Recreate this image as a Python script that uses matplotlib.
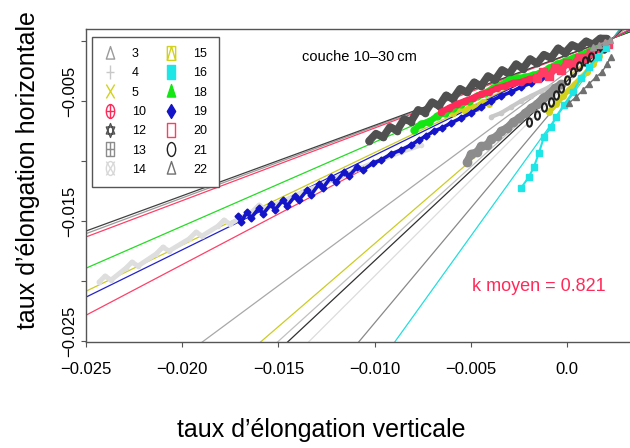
import matplotlib
matplotlib.use("Agg")
import matplotlib.pyplot as plt
from matplotlib.path import Path
from matplotlib.lines import Line2D
from matplotlib.transforms import ScaledTranslation

plt.rcParams['font.family'] = ['Liberation Sans', 'DejaVu Sans']

# ---------------- data ----------------
series = ['3', '4', '5', '10', '12', '13', '14', '15', '16', '18', '19', '20', '21', '22']
colors = {'3': '#9a9a9a', '4': '#c8c8c8', '5': '#d2d21e', '10': '#ff2a5a', '12': '#505050',
          '13': '#8c8c8c', '14': '#d8d8d8', '15': '#d2d21e', '16': '#1ee6e6', '18': '#14e614',
          '19': '#1414c8', '20': '#ff3c64', '21': '#202020', '22': '#707070'}
# fitted slopes (horizontal / vertical)
slopes = {'3': 0.595, '4': 1.452, '5': 1.382, '10': 0.605, '12': 0.587, '13': 1.186,
          '14': 1.60, '15': 0.770, '16': 2.231, '18': 0.700, '19': 0.788, '20': 0.843,
          '21': 1.497, '22': 1.915}
line_colors = {'3': '#9a9a9a', '4': '#c0c0c0', '5': '#cccc22', '10': '#ff4068', '12': '#404040',
               '13': '#a8a8a8', '14': '#dcdcdc', '15': '#cccc22', '16': '#22dede', '18': '#22dd22',
               '19': '#2222cc', '20': '#ff4068', '21': '#303030', '22': '#888888'}
anchor = (0.0024, 0.00025)   # common point of fitted lines
k_mean = 0.821

# strains in per mille: v = vertical, h = horizontal
v12 = [-10.29, -9.93, -9.56, -9.20, -8.84, -8.47, -8.11, -7.74, -7.38, -7.02, -6.65, -6.29,
       -5.93, -5.56, -5.20, -4.83, -4.47, -4.11, -3.74, -3.38, -3.01, -2.65, -2.29, -1.92,
       -1.56, -1.20, -0.83, -0.47, -0.10, 0.26, 0.62, 0.99, 1.35, 1.72, 2.08]
h12 = [-8.33, -7.72, -8.02, -7.16, -7.46, -6.51, -6.71, -5.74, -5.96, -5.10, -5.40, -4.53,
       -4.84, -3.98, -4.29, -3.44, -3.75, -2.92, -3.24, -2.41, -2.74, -1.93, -2.30, -1.50,
       -1.87, -1.14, -1.42, -0.61, -0.98, -0.33, -0.59, -0.03, -0.28, 0.21, 0.20]

v10 = [-6.55, -6.13, -5.72, -5.30, -4.89, -4.47, -4.05, -3.64, -3.22, -2.81, -2.39, -1.98, -1.56]
h10 = [-5.92, -5.58, -5.25, -5.00, -4.75, -4.42, -4.25, -3.92, -3.75, -3.50, -3.42, -3.17, -3.08]

v20 = [-1.56, -1.25, -0.94, -0.62, -0.31, 0.00, 0.31, 0.62, 0.94, 1.25, 1.56, 1.87, 2.13]
h20 = [-3.08, -2.58, -2.92, -2.25, -2.42, -1.83, -2.00, -1.42, -1.42, -1.00, -0.92, -0.50, -0.25]

v18 = [-7.95, -7.59, -7.17, -6.76, -6.34, -5.93, -5.51, -5.09, -4.68, -4.26, -3.85, -3.43,
       -3.01, -2.60, -2.18, -1.77, -1.35, -0.94, -0.52, -0.10, 0.31, 0.73, 1.14, 1.56]
h18 = [-7.42, -6.92, -6.75, -6.25, -6.00, -5.58, -5.25, -5.00, -4.58, -4.33, -3.92, -3.67,
       -3.25, -3.08, -3.00, -2.83, -2.67, -2.25, -1.92, -1.67, -1.42, -1.17, -0.92, -0.67]

v19 = [-17.10, -16.94, -16.63, -16.42, -16.01, -15.80, -15.38, -15.18, -14.76, -14.55, -14.14,
       -13.93, -13.51, -13.31, -12.89, -12.68, -12.27, -12.01, -11.59, -11.33, -10.91, -10.60,
       -10.08, -9.67, -9.15, -8.63, -8.11, -7.69, -7.33, -6.91, -6.50, -6.03, -5.51, -4.99,
       -4.47, -3.95, -3.43, -2.91, -2.39, -1.87, -1.35, -0.83, -0.31, 0.21, 0.73, 1.25, 1.77]
h19 = [-14.58, -15.08, -14.25, -14.75, -13.92, -14.42, -13.58, -14.08, -13.25, -13.75, -12.92,
       -13.25, -12.42, -12.83, -11.92, -12.25, -11.33, -11.75, -10.92, -11.25, -10.50, -10.75,
       -10.17, -9.92, -9.42, -9.08, -8.67, -8.25, -7.92, -7.50, -7.25, -6.83, -6.42, -6.00,
       -5.50, -5.00, -4.58, -4.25, -3.83, -3.50, -3.08, -2.58, -2.08, -1.67, -1.25, -0.92, -0.50]

v14 = [-24.32, -24.01, -23.70, -22.92, -22.61, -22.30, -21.36, -21.00, -20.69, -19.65, -19.28,
       -18.97, -18.14, -17.83, -17.52, -16.32, -16.01, -15.70, -14.61, -13.83, -12.79, -11.75,
       -10.71, -9.67, -8.63, -7.59]
h14 = [-20.08, -19.58, -19.92, -18.92, -18.42, -18.75, -17.75, -17.17, -17.50, -16.50, -15.92,
       -16.25, -15.42, -14.92, -15.25, -14.17, -13.67, -14.00, -13.25, -12.67, -12.00, -11.25,
       -10.58, -9.92, -9.25, -8.67]

v15 = [-5.93, -5.61, -5.30, -4.99, -4.68, -4.37, -4.05]
h15 = [-6.00, -5.58, -5.83, -5.42, -5.58, -5.08, -5.25]

v5 = [-0.94, -0.57, -0.21, 0.10, 0.42, 0.73, 1.04, 1.35, 1.66]
h5 = [-5.92, -5.25, -4.58, -4.08, -3.58, -3.08, -2.58, -1.92, -1.25]

v13 = [-5.20, -4.99, -4.68, -4.47, -4.16, -3.95, -3.64, -3.43, -3.12, -2.81, -2.49, -2.18,
       -1.87, -1.56, -1.25, -0.94, -0.62, -0.31]
h13 = [-10.08, -9.42, -9.25, -8.75, -8.67, -8.17, -7.92, -7.50, -7.25, -6.75, -6.42, -6.00,
       -5.58, -5.25, -4.75, -4.42, -3.92, -3.58]

v4 = [-3.95, -3.43, -2.91, -2.39, -1.87, -1.35, -0.83]
h4 = [-6.33, -6.00, -5.50, -5.00, -4.58, -4.17, -3.75]

v21 = [-1.98, -1.56, -1.20, -0.83, -0.57, -0.31, 0.00, 0.31, 0.62, 0.94, 1.25, 1.61, 1.92]
h21 = [-6.75, -6.17, -5.50, -5.08, -4.50, -3.92, -3.25, -2.58, -2.08, -1.67, -1.33, -1.00, -0.58]

v16 = [-2.39, -1.98, -1.72, -1.46, -1.20, -0.83, -0.57, -0.16, 0.31, 0.73, 1.14, 1.61, 2.03]
h16 = [-12.25, -11.33, -10.50, -9.33, -8.00, -7.17, -6.33, -5.33, -4.25, -3.08, -2.17, -1.33, -0.58]

v22 = [0.10, 0.47, 0.83, 1.14, 1.51, 1.82, 2.08, 2.29]
h22 = [-5.17, -4.67, -4.08, -3.58, -3.00, -2.58, -1.92, -1.33]

v3 = [1.35, 1.66, 1.98, 2.23]
h3 = [-0.50, -0.33, -0.08, 0.08]

xticks = [-0.025, -0.020, -0.015, -0.010, -0.005, 0.0]
xticklabels = ['\u22120.025', '\u22120.020', '\u22120.015', '\u22120.010', '\u22120.005', '0.0']
yticks = [0.0, -0.005, -0.010, -0.015, -0.020, -0.025]
yticklabels = ['', '\u22120.005', '', '\u22120.015', '', '\u22120.025']

# ---------------- marker shapes ----------------
M, L, C = Path.MOVETO, Path.LINETO, Path.CLOSEPOLY
W = 0.6


def ellipse():
    c = Path.unit_circle()
    return Path(c.vertices * [W, 1.0], c.codes)


rect = Path([(-W, -1), (W, -1), (W, 1), (-W, 1), (-W, -1)], [M, L, L, L, C])
tri = Path([(0, 1), (-W, -0.8), (W, -0.8), (0, 1)], [M, L, L, C])
plus = Path([(0, -1), (0, 1), (-W, 0), (W, 0)], [M, L, M, L])
cross = Path([(-W, -1), (W, 1), (-W, 1), (W, -1)], [M, L, M, L])
diam = Path([(0, 1), (W, 0), (0, -1), (-W, 0), (0, 1)], [M, L, L, L, C])
star = Path.make_compound_path(Path([(0, 1), (-W, -0.5), (W, -0.5), (0, 1)], [M, L, L, C]),
                               Path([(0, -1), (-W, 0.5), (W, 0.5), (0, -1)], [M, L, L, C]))
markers = {
    '3': (tri, False), '4': (plus, False), '5': (cross, False),
    '10': (Path.make_compound_path(ellipse(), plus), False),
    '12': (star, False), '13': (Path.make_compound_path(rect, plus), False),
    '14': (Path.make_compound_path(ellipse(), cross), False),
    '15': (Path.make_compound_path(rect, Path([(-W, -1), (0, 1), (W, -1)], [M, L, L])), False),
    '16': (rect, True), '18': (tri, True), '19': (diam, True), '20': (rect, False),
    '21': (ellipse(), False), '22': (tri, False),
}

# ---------------- figure ----------------
fig = plt.figure(figsize=(6.3, 4.48), dpi=100)
ax = fig.add_axes([86 / 630, 106 / 448, 546.4 / 630, 313 / 448])
ax.set_xlim(-0.025, 0.0034)
ax.set_ylim(-0.02508, 0.001)

for s in series:
    ax.axline(anchor, slope=slopes[s], color=line_colors[s], lw=0.9, zorder=1)

pm = 1e-3


def band(v, h, s, lw, ms, mk='o', z=3, ls='-', col=None):
    c = col or colors[s]
    ax.plot([a * pm for a in v], [b * pm for b in h], ls=ls, lw=lw, color=c,
            marker=mk, ms=ms, mfc=c, mec=c, solid_joinstyle='round',
            solid_capstyle='round', zorder=z)


band(v14, h14, '14', 3.5, 3, z=2, col='#dedede')
band(v4, h4, '4', 3.0, 3, z=2)
band(v13, h13, '13', 5.5, 6, z=3)
band(v15, h15, '15', 4.0, 4, z=3)
band(v19, h19, '19', 2.6, 3.5, mk='D', z=4)
band(v12, h12, '12', 5.5, 4.5, z=4)
band(v18, h18, '18', 4.5, 5, z=5)
band(v10, h10, '10', 4.5, 4.5, z=5)
band(v20, h20, '20', 5.0, 5.5, mk='s', z=6)
band(v5, h5, '5', 4.0, 4, z=6)
ax.plot([a * pm for a in v21], [b * pm for b in h21], ls='none', marker=ellipse(), ms=6,
        mfc='none', mec=colors['21'], mew=1.5, zorder=7)
band(v16, h16, '16', 1.5, 3.8, mk='s', z=7)
band(v22, h22, '22', 1.0, 5, mk='^', z=7)
band(v3, h3, '3', 1.0, 4, mk='^', z=7)

# axes styling
for side in ['left', 'bottom', 'top']:
    ax.spines[side].set_color('#555555')
    ax.spines[side].set_linewidth(1.0)
ax.spines['right'].set_visible(False)
ax.set_xticks(xticks)
ax.set_xticklabels(xticklabels, fontsize=12)
ax.set_yticks(yticks)
ax.set_yticklabels(yticklabels, fontsize=12, rotation=90, va='center')
ax.tick_params(axis='both', direction='out', length=3.5, width=0.8, color='#555555')
ax.tick_params(axis='x', pad=11)
ax.tick_params(axis='y', pad=3)
shift = ScaledTranslation(0, 7 / 72, fig.dpi_scale_trans)
for lab in ax.get_yticklabels():
    lab.set_transform(lab.get_transform() + shift)

fig.text(321 / 630, 1 - 430 / 448, "taux d\u2019\u00e9longation verticale", fontsize=18,
         ha='center', va='center')
fig.text(28 / 630, 1 - 170 / 448, "taux d\u2019\u00e9longation horizontale", fontsize=18,
         ha='center', va='center', rotation=90)

ax.text(0.501, 0.911, "couche 10\u201330\u2009cm", transform=ax.transAxes, fontsize=10.5,
        ha='center', va='center')
ax.text(0.829, 0.176, "k moyen = %.3f" % k_mean, transform=ax.transAxes, fontsize=13,
        ha='center', va='center', color='#ff2a5a')

handles = []
for s in series:
    path, filled = markers[s]
    handles.append(Line2D([], [], ls='none', marker=path, ms=10,
                          mfc=colors[s] if filled else 'none', mec=colors[s], mew=1.0))
leg = ax.legend(handles, series, ncol=2, loc='upper left',
                bbox_to_anchor=(92 / 630, 1 - 37 / 448), bbox_transform=fig.transFigure,
                borderaxespad=0, fontsize=9, handlelength=1.0, handletextpad=1.3,
                columnspacing=1.5, labelspacing=0.58, borderpad=0.9, fancybox=False,
                edgecolor='#555555', framealpha=1)
leg.get_frame().set_linewidth(1.0)
leg.set_zorder(10)

fig.savefig("out.png", dpi=100)
